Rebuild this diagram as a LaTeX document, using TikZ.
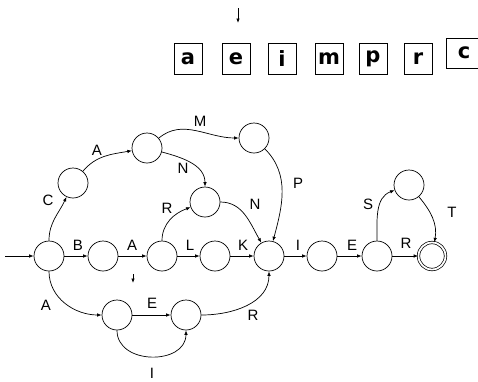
\documentclass[tikz,border=0pt]{standalone}
\usepackage{fontspec}
\setmainfont{Liberation Sans}
\newfontfamily\boxfont{DejaVu Sans}
\usetikzlibrary{arrows.meta}
\tikzset{
  state/.style={circle,draw,minimum size=30pt,inner sep=0pt,line width=0.7pt},
  accept/.style={state,minimum size=27pt,double,double distance=1.8pt},
  lbl/.style={font=\fontsize{15}{17}\selectfont,inner sep=0pt},
  letterbox/.style={draw,line width=0.7pt,minimum width=28pt,minimum height=31pt,inner sep=0pt,
    font=\boxfont\bfseries\fontsize{21}{23}\selectfont},
  edge/.style={->,line width=0.7pt},
}
\begin{document}
\begin{tikzpicture}[x=1pt,y=-1pt,>={Latex[length=4.5pt,width=3.5pt]}]
\useasboundingbox (0,0) rectangle (478,381);
\clip (0,0) rectangle (478,381);

% letters
\node[letterbox] (ba) at (188,58.5) {a};
\node[letterbox] (be) at (236,58.5) {e};
\node[letterbox] (bi) at (282,58.5) {i};
\node[letterbox] (bm) at (329,58.5) {m};
\node[letterbox] (bp) at (373,58.5) {p};
\node[letterbox] (br) at (418,58.5) {r};
\node[letterbox,minimum width=36pt,minimum height=30pt] (bc) at (464,53) {c};
\coordinate (ptrtop) at (238,8);
\coordinate (ptrend) at (238,23);
\draw[edge] (ptrtop) -- (ptrend);

% states
\node[state] (s0) at (49,256) {};
\node[state] (s1) at (103,256) {};
\node[state] (s2) at (162,256) {};
\node[state] (s3) at (215,256) {};
\node[state] (s4) at (269,256) {};
\node[state] (s5) at (322,256) {};
\node[state] (s6) at (377,256) {};
\node[accept] (s7) at (432,256) {};
\node[state] (c1) at (73,183) {};
\node[state] (c2) at (147,148) {};
\node[state] (m1) at (254,138) {};
\node[state] (n1) at (205,202) {};
\node[state] (t1) at (409,185) {};
\node[state] (a1) at (117,315) {};
\node[state] (a2) at (186,315) {};
\coordinate (entry) at (5,256);
\coordinate (marktop) at (133,274);
\coordinate (markend) at (133,283);

% transitions
\draw[edge] (entry) -- (s0);
\draw[edge] (s0) -- (s1);
\draw[edge] (s1) -- (s2);
\draw[edge] (s2) -- (s3);
\draw[edge] (s3) -- (s4);
\draw[edge] (s4) -- (s5);
\draw[edge] (s5) -- (s6);
\draw[edge] (s6) -- (s7);
\draw[edge] (s0.north) to[out=90,in=245] (c1);
\draw[edge] (c1) to[out=50,in=190] (c2);
\draw[edge] (c2) to[out=40,in=180] (m1);
\draw[edge] (c2) to[out=-15,in=90] (n1.north);
\draw[edge] (m1) to[out=-45,in=75] (s4);
\draw[edge] (n1) to[out=0,in=120] (s4);
\draw[edge] (s2.north) to[out=90,in=200] (n1);
\draw[edge] (s0.south) to[out=-90,in=180] (a1);
\draw[edge] (a1) -- (a2);
\draw[edge] (a1.south) to[out=-90,in=-90,looseness=1.3] (a2.south);
\draw[edge] (a2) to[out=0,in=-90] (s4.south);
\draw[edge] (s6.north) to[out=90,in=200] (t1);
\draw[edge] (t1) to[out=-50,in=80] (s7);
\draw[edge] (marktop) -- (markend);

% labels
\node[lbl] (lB) at (78,245) {B};
\node[lbl] (lA1) at (132,245) {A};
\node[lbl] (lL) at (190,245) {L};
\node[lbl] (lK) at (243,245) {K};
\node[lbl] (lI1) at (298,245) {I};
\node[lbl] (lE1) at (352,245) {E};
\node[lbl] (lR1) at (406,243) {R};
\node[lbl] (lC) at (48,200) {C};
\node[lbl] (lA2) at (97,150) {A};
\node[lbl] (lM) at (200,121) {M};
\node[lbl] (lN1) at (183,168) {N};
\node[lbl] (lR2) at (167,208) {R};
\node[lbl] (lN2) at (255,204) {N};
\node[lbl] (lP) at (298,183) {P};
\node[lbl] (lS) at (368,204) {S};
\node[lbl] (lT) at (452,212) {T};
\node[lbl] (lA3) at (46,305) {A};
\node[lbl] (lE2) at (152,303) {E};
\node[lbl] (lR3) at (253,315) {R};
\node[lbl] (lI2) at (152,373) {I};
\end{tikzpicture}
\end{document}
